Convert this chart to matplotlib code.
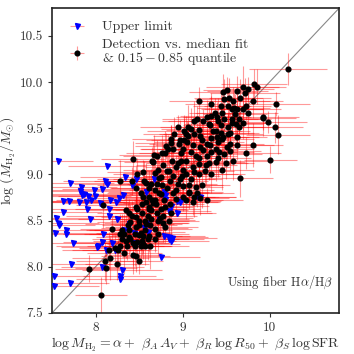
import matplotlib
matplotlib.use('Agg')
import matplotlib.pyplot as plt
import numpy as np

plt.rcParams['font.family'] = 'serif'
plt.rcParams['font.serif'] = ['cmr10', 'DejaVu Serif']
plt.rcParams['mathtext.fontset'] = 'cm'
plt.rcParams['axes.formatter.use_mathtext'] = True

# ---------------- data ----------------
xlim = (7.5, 10.8)
ylim = (7.5, 10.8)
xticks = [8, 9, 10]
yticks = [7.5, 8.0, 8.5, 9.0, 9.5, 10.0, 10.5]

# upper limits (blue triangles)
up_x = [7.57, 8.13, 7.71, 7.83, 8.11, 8.13, 8.34, 8.46, 8.42, 7.82,
        7.87, 7.91, 7.98, 8.08, 7.95, 7.81, 7.63, 7.69, 8.05, 8.17,
        8.23, 8.27, 8.16, 8.31, 7.90, 7.63, 7.94, 7.55, 7.57, 7.58,
        8.15, 8.25, 7.53, 7.66, 7.66, 8.09, 8.33, 8.39, 8.44, 8.80,
        8.87, 8.94, 8.80, 8.73, 8.58, 8.88, 8.85, 7.74, 8.02, 8.03,
        8.08, 8.12, 8.19, 7.72, 7.52, 7.52, 7.71, 8.08, 8.30, 8.28,
        8.28, 8.75, 8.87, 8.22, 8.45, 8.67, 8.58, 8.79, 8.97, 9.20,
        8.85, 8.94, 8.56, 8.60, 8.79, 8.84, 9.18, 7.89, 7.84, 7.99]
up_y = [9.15, 9.09, 8.91, 8.86, 8.93, 8.90, 8.97, 8.95, 8.88, 8.82,
        8.79, 8.77, 8.83, 8.84, 8.72, 8.70, 8.71, 8.71, 8.69, 8.72,
        8.70, 8.74, 8.63, 8.78, 8.62, 8.59, 8.52, 8.53, 8.47, 8.45,
        8.55, 8.52, 8.37, 8.40, 8.35, 8.36, 8.40, 8.46, 8.37, 8.73,
        8.66, 8.71, 8.78, 8.51, 8.47, 8.31, 8.32, 8.26, 8.21, 8.22,
        8.27, 8.18, 8.26, 8.03, 7.90, 7.79, 7.82, 8.00, 7.97, 7.90,
        7.87, 8.11, 8.28, 8.18, 8.26, 8.95, 8.81, 8.81, 8.70, 8.75,
        8.60, 8.58, 8.42, 8.38, 8.33, 8.30, 8.75, 8.70, 8.78, 8.77]
up_xerr = [0.40, 0.45, 0.50, 0.42, 0.48, 0.38, 0.52, 0.44, 0.40, 0.47,
           0.55, 0.43, 0.50, 0.46, 0.41, 0.53, 0.45, 0.49, 0.44, 0.51,
           0.42, 0.48, 0.40, 0.46, 0.52, 0.44, 0.50, 0.43, 0.47, 0.41,
           0.49, 0.45, 0.53, 0.42, 0.48, 0.46, 0.40, 0.51, 0.44, 0.47,
           0.43, 0.50, 0.45, 0.41, 0.48, 0.52, 0.44, 0.46, 0.42, 0.49,
           0.45, 0.50, 0.43, 0.47, 0.41, 0.52, 0.44, 0.48, 0.46, 0.42,
           0.50, 0.45, 0.43, 0.49, 0.41, 0.47, 0.44, 0.51, 0.46, 0.42,
           0.48, 0.45, 0.50, 0.43, 0.47, 0.41, 0.44, 0.49, 0.46, 0.42]

# detections (black points)
det_x = [10.21, 9.19, 9.33, 9.47, 9.51, 9.63, 9.69, 9.75, 9.82, 9.86,
         9.53, 9.44, 9.52, 9.57, 9.63, 9.69, 9.73, 9.81, 10.08, 9.92,
         9.37, 9.33, 9.24, 9.30, 9.41, 9.57, 9.61, 9.98, 10.06, 10.10,
         9.81, 9.73, 10.01, 9.66, 9.28, 9.20, 9.13, 9.01, 9.07, 9.16,
         8.92, 8.43, 8.28, 8.42, 8.48, 8.54, 8.66, 8.71, 8.80, 8.81,
         8.87, 8.83, 8.89, 8.98, 9.01, 9.10, 9.15, 9.19, 9.24, 9.28,
         9.33, 9.41, 9.48, 9.51, 9.45, 9.33, 9.22, 9.13, 9.04, 8.97,
         8.90, 8.95, 9.06, 9.19, 9.38, 9.52, 9.63, 9.04, 9.12, 9.19,
         9.26, 9.33, 9.19, 9.04, 8.93, 8.82, 8.75, 8.86, 8.71, 8.64,
         8.56, 8.68, 8.75, 8.61, 8.68, 8.79, 8.86, 8.53, 8.61, 8.46,
         8.53, 8.64, 8.71, 8.57, 8.46, 8.38, 8.35, 8.09, 8.19, 8.39,
         8.46, 8.57, 8.68, 8.80, 8.85, 8.87, 8.06, 7.93, 8.12, 8.11,
         8.17, 8.25, 8.16, 8.22, 8.26, 8.28, 8.36, 8.43, 8.48, 8.53,
         8.57, 8.63, 8.52, 8.43, 8.46, 8.50, 8.33, 8.38, 8.30, 8.33,
         8.65, 8.73, 8.85, 8.89, 8.99, 9.01, 9.08, 9.22, 9.17, 9.27,
         9.08, 9.04, 9.12, 8.89, 8.93, 8.73, 8.58, 8.54, 8.66, 8.62,
         8.50, 8.74, 8.64, 8.78, 8.58, 8.72, 8.52, 8.62, 9.93, 9.48,
         9.59, 9.75, 9.45, 9.48, 9.57, 9.69, 9.52, 9.44, 9.35, 9.44,
         9.40, 9.47, 9.54, 9.65, 9.41, 9.55, 9.55, 9.63, 9.32, 9.38,
         9.31, 9.13, 9.02, 9.10, 9.06, 9.20, 8.87, 9.02, 8.96, 8.76,
         8.67, 8.98, 8.40, 8.45, 8.50, 8.55, 8.60, 8.63, 8.68, 8.72,
         8.75, 8.78, 8.80, 8.48, 8.42, 8.37, 8.30, 8.28, 8.35, 8.40,
         8.45, 8.55, 8.60, 8.50, 8.65, 8.70, 8.58, 8.52, 8.47, 8.62,
         8.76, 8.82, 8.95, 8.97, 9.10, 9.13, 9.00, 8.95, 8.88, 8.78,
         8.72, 8.68, 9.20, 9.12, 9.05, 9.28, 9.42, 9.38, 9.30, 9.45,
         9.50, 9.58, 9.40, 9.28, 9.17, 9.60, 9.65, 9.58, 9.66, 9.72]
det_y = [10.14, 9.80, 9.76, 9.89, 9.91, 9.90, 9.95, 9.92, 9.98, 9.95,
         9.83, 9.74, 9.74, 9.71, 9.71, 9.71, 9.74, 9.80, 9.76, 9.62,
         9.67, 9.63, 9.58, 9.55, 9.58, 9.56, 9.55, 9.57, 9.51, 9.43,
         9.32, 9.23, 9.16, 8.96, 8.72, 8.74, 8.76, 8.76, 8.81, 8.86,
         8.83, 9.17, 8.93, 8.93, 9.00, 9.03, 9.13, 9.20, 9.23, 9.31,
         9.34, 9.27, 9.27, 9.23, 9.28, 9.24, 9.20, 9.18, 9.26, 9.20,
         9.24, 9.18, 9.22, 9.30, 9.38, 9.39, 9.37, 9.44, 9.44, 9.37,
         9.44, 9.51, 9.51, 9.48, 9.47, 9.44, 9.41, 9.14, 9.08, 9.11,
         9.04, 9.00, 9.00, 9.00, 9.08, 9.04, 8.97, 8.93, 8.90, 8.90,
         8.93, 8.83, 8.79, 8.76, 8.72, 8.72, 8.68, 8.68, 8.65, 8.65,
         8.58, 8.61, 8.58, 8.50, 8.54, 8.58, 8.61, 8.67, 8.41, 8.40,
         8.43, 8.40, 8.41, 8.43, 8.50, 8.58, 7.69, 7.98, 7.99, 8.06,
         8.09, 8.03, 8.18, 8.20, 8.18, 8.23, 8.23, 8.26, 8.27, 8.28,
         8.22, 8.22, 8.22, 8.13, 8.12, 8.06, 8.15, 8.32, 8.30, 8.35,
         9.15, 8.96, 9.04, 8.98, 8.98, 8.87, 8.88, 8.88, 8.80, 9.10,
         8.80, 8.72, 8.70, 8.80, 8.73, 8.80, 8.91, 8.75, 8.69, 8.62,
         8.50, 8.53, 8.52, 8.47, 8.46, 8.36, 8.37, 8.33, 9.61, 9.82,
         9.72, 9.67, 9.67, 9.60, 9.60, 9.56, 9.51, 9.53, 9.47, 9.45,
         9.40, 9.40, 9.45, 9.51, 9.35, 9.33, 9.25, 9.32, 9.32, 9.28,
         9.54, 9.58, 9.47, 9.49, 9.42, 9.42, 9.38, 9.37, 9.33, 9.23,
         9.21, 9.15, 8.48, 8.35, 8.45, 8.33, 8.55, 8.45, 8.30, 8.50,
         8.62, 8.55, 8.65, 8.62, 8.55, 8.45, 8.40, 8.36, 8.28, 8.30,
         8.22, 8.25, 8.30, 8.34, 8.72, 8.68, 8.70, 8.80, 8.85, 8.85,
         8.88, 8.85, 8.90, 8.95, 8.95, 9.03, 9.05, 9.12, 9.15, 9.10,
         9.05, 9.02, 9.30, 9.32, 9.35, 9.33, 9.24, 9.13, 9.12, 9.05,
         9.12, 9.15, 9.62, 9.62, 9.60, 9.65, 9.60, 9.80, 9.83, 9.88]
det_xerr = [0.45, 0.35, 0.30, 0.40, 0.28, 0.35, 0.42, 0.30, 0.38, 0.33,
            0.40, 0.32, 0.27, 0.36, 0.30, 0.44, 0.29, 0.35, 0.38, 0.42,
            0.30, 0.36, 0.41, 0.28, 0.34, 0.39, 0.31, 0.45, 0.32, 0.37,
            0.35, 0.40, 0.30, 0.38, 0.42, 0.33, 0.29, 0.36, 0.40, 0.31,
            0.44, 0.37, 0.30, 0.35, 0.28, 0.41, 0.33, 0.39, 0.30, 0.36,
            0.42, 0.31, 0.38, 0.34, 0.29, 0.45, 0.36, 0.32, 0.40, 0.35,
            0.30, 0.38, 0.43, 0.33, 0.37, 0.29, 0.41, 0.35, 0.31, 0.39,
            0.36, 0.44, 0.32, 0.38, 0.30, 0.40, 0.34, 0.29, 0.42, 0.37,
            0.33, 0.39, 0.45, 0.31, 0.36, 0.40, 0.28, 0.43, 0.35, 0.38,
            0.41, 0.30, 0.37, 0.44, 0.32, 0.35, 0.39, 0.31, 0.46, 0.34,
            0.38, 0.42, 0.33, 0.29, 0.40, 0.36, 0.45, 0.32, 0.37, 0.41,
            0.35, 0.31, 0.43, 0.38, 0.34, 0.47, 0.30, 0.40, 0.36, 0.33,
            0.44, 0.37, 0.32, 0.41, 0.29, 0.38, 0.35, 0.42, 0.31, 0.39,
            0.30, 0.45, 0.36, 0.33, 0.40, 0.28, 0.43, 0.37, 0.34, 0.46,
            0.39, 0.32, 0.41, 0.35, 0.44, 0.30, 0.38, 0.33, 0.42, 0.36,
            0.37, 0.43, 0.29, 0.40, 0.34, 0.45, 0.31, 0.39, 0.35, 0.42,
            0.33, 0.38, 0.44, 0.30, 0.41, 0.36, 0.32, 0.47, 0.37, 0.34,
            0.42, 0.35, 0.31, 0.39, 0.45, 0.33, 0.40, 0.29, 0.43, 0.38,
            0.36, 0.41, 0.34, 0.46, 0.30, 0.39, 0.35, 0.42, 0.32, 0.44,
            0.31, 0.37, 0.43, 0.35, 0.40, 0.32, 0.45, 0.38, 0.34, 0.41,
            0.40, 0.33, 0.38, 0.42, 0.29, 0.44, 0.36, 0.31, 0.39, 0.35,
            0.45, 0.39, 0.32, 0.37, 0.43, 0.30, 0.41, 0.35, 0.38, 0.33,
            0.34, 0.42, 0.36, 0.31, 0.40, 0.46, 0.33, 0.39, 0.30, 0.44,
            0.38, 0.30, 0.45, 0.40, 0.35, 0.32, 0.42, 0.37, 0.43, 0.31,
            0.41, 0.36, 0.33, 0.44, 0.38, 0.29, 0.40, 0.34, 0.45, 0.37,
            0.32, 0.43, 0.39, 0.35, 0.41, 0.37, 0.30, 0.42, 0.36, 0.40]
det_yerr = [0.17, 0.15, 0.12, 0.20, 0.14, 0.17, 0.22, 0.13, 0.16, 0.19,
            0.21, 0.14, 0.18, 0.12, 0.16, 0.23, 0.15, 0.19, 0.13, 0.20,
            0.16, 0.22, 0.13, 0.18, 0.25, 0.14, 0.19, 0.12, 0.17, 0.21,
            0.24, 0.17, 0.15, 0.20, 0.13, 0.18, 0.22, 0.16, 0.14, 0.19,
            0.12, 0.19, 0.23, 0.15, 0.18, 0.13, 0.21, 0.17, 0.24, 0.14,
            0.20, 0.16, 0.13, 0.22, 0.18, 0.15, 0.25, 0.14, 0.19, 0.17,
            0.15, 0.21, 0.18, 0.13, 0.23, 0.16, 0.20, 0.14, 0.19, 0.22,
            0.18, 0.13, 0.24, 0.17, 0.15, 0.21, 0.12, 0.19, 0.16, 0.23,
            0.14, 0.20, 0.17, 0.25, 0.13, 0.18, 0.22, 0.15, 0.19, 0.16,
            0.21, 0.15, 0.19, 0.13, 0.24, 0.17, 0.14, 0.22, 0.18, 0.20,
            0.16, 0.23, 0.14, 0.19, 0.21, 0.15, 0.18, 0.25, 0.13, 0.20,
            0.19, 0.14, 0.22, 0.17, 0.16, 0.24, 0.20, 0.15, 0.18, 0.21,
            0.23, 0.17, 0.20, 0.14, 0.19, 0.22, 0.16, 0.25, 0.18, 0.15,
            0.20, 0.24, 0.16, 0.21, 0.18, 0.14, 0.23, 0.19, 0.17, 0.22,
            0.15, 0.19, 0.22, 0.16, 0.20, 0.13, 0.18, 0.24, 0.15, 0.21,
            0.17, 0.20, 0.14, 0.23, 0.18, 0.16, 0.21, 0.19, 0.25, 0.15,
            0.22, 0.18, 0.16, 0.20, 0.14, 0.24, 0.19, 0.17, 0.13, 0.21,
            0.16, 0.23, 0.19, 0.14, 0.20, 0.18, 0.15, 0.22, 0.17, 0.13,
            0.19, 0.15, 0.21, 0.17, 0.24, 0.14, 0.20, 0.16, 0.22, 0.18,
            0.14, 0.21, 0.17, 0.23, 0.15, 0.19, 0.16, 0.24, 0.18, 0.20,
            0.22, 0.16, 0.19, 0.15, 0.21, 0.18, 0.23, 0.17, 0.14, 0.20,
            0.18, 0.22, 0.15, 0.20, 0.16, 0.24, 0.17, 0.21, 0.19, 0.14,
            0.21, 0.17, 0.23, 0.18, 0.15, 0.20, 0.22, 0.16, 0.24, 0.19,
            0.16, 0.20, 0.14, 0.22, 0.18, 0.15, 0.21, 0.17, 0.19, 0.23,
            0.19, 0.15, 0.21, 0.17, 0.23, 0.16, 0.14, 0.20, 0.18, 0.22,
            0.17, 0.21, 0.16, 0.19, 0.14, 0.22, 0.18, 0.15, 0.20, 0.16]

label_up = 'Upper limit'
label_det = 'Detection vs. median fit\n& $0.15-0.85$ quantile'
note = r'Using fiber H$\alpha/$H$\beta$'
xlabel = (r'$\log M_{\rm H_2} = \alpha +\ \beta_A\,A_V +\ \beta_R\,\log R_{50}'
          r' +\ \beta_S\,\log {\rm SFR}$')
ylabel = r'$\log\,(M_{\rm H_2}/M_{\odot})$'

# ---------------- plot ----------------
fig = plt.figure(figsize=(3.54, 3.54), dpi=100)
ax = fig.add_axes([0.147, 0.116, 0.811, 0.861])

ecol = (1.0, 0.0, 0.0, 0.4)

ax.plot(xlim, ylim, color='#888888', lw=0.8, zorder=1)

ax.errorbar(up_x, up_y, xerr=up_xerr, fmt='none', ecolor=ecol,
            elinewidth=0.8, zorder=2)
ax.errorbar(det_x, det_y, xerr=det_xerr, yerr=det_yerr, fmt='none',
            ecolor=ecol, elinewidth=0.8, zorder=2)
ax.plot(up_x, up_y, 'v', color='blue', ms=3.6, mec='blue', zorder=3)
ax.plot(det_x, det_y, 'o', color='black', ms=3.4, zorder=3)

# legend proxies
h1 = ax.errorbar([np.nan], [np.nan], xerr=[0.1], fmt='v', color='blue', ms=3.6,
                 ecolor=ecol, elinewidth=0.8, label=label_up)
h2 = ax.errorbar([np.nan], [np.nan], xerr=[0.1], yerr=[0.1], fmt='o',
                 color='black', ms=3.4, ecolor=ecol, elinewidth=0.8,
                 label=label_det)
leg = ax.legend(handles=[h1, h2], loc='upper left', frameon=False,
                fontsize=10, handlelength=1.8, borderaxespad=0.45,
                borderpad=0.45, labelspacing=0.4, handletextpad=0.9)
for t in leg.get_texts():
    t.set_color('#333333')
    t.set_linespacing(0.95)

ax.text(0.98, 0.10, note, transform=ax.transAxes, ha='right', va='center',
        fontsize=9, color='#333333')

ax.set_xlim(*xlim)
ax.set_ylim(*ylim)
ax.set_xticks(xticks)
ax.set_yticks(yticks)
ax.set_xticklabels([str(v) for v in xticks])
ax.set_yticklabels(['%.1f' % v for v in yticks])
ax.tick_params(direction='out', length=3, width=0.8, labelsize=9.5,
               colors='#333333', top=False, right=False)
ax.set_xlabel(xlabel, fontsize=10, color='#333333', labelpad=1)
ax.set_ylabel(ylabel, fontsize=10, color='#333333')
ax.yaxis.set_label_coords(-0.118, 0.5)
for s in ax.spines.values():
    s.set_linewidth(1.2)
    s.set_color('#222222')

fig.savefig('out.png', dpi=100)
